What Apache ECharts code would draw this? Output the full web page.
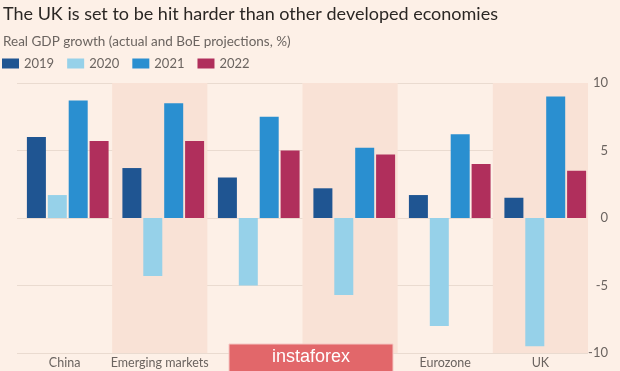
<!DOCTYPE html>
<html>
<head>
<meta charset="utf-8">
<script src="https://cdn.jsdelivr.net/npm/echarts@6/dist/echarts.min.js"></script>
<style>
html,body{margin:0;padding:0;background:#fdf0e7;}
#c{width:620px;height:371px;}
</style>
</head>
<body>
<div id="c"></div>
<script>
const categories = ['China', 'Emerging markets', 'World', 'US', 'Eurozone', 'UK'];
const years = ['2019', '2020', '2021', '2022'];
const v2019 = [6.0, 3.7, 3.0, 2.2, 1.7, 1.5];
const v2020 = [1.7, -4.3, -5.0, -5.7, -8.0, -9.5];
const v2021 = [8.7, 8.5, 7.5, 5.2, 6.2, 9.0];
const v2022 = [5.7, 5.7, 5.0, 4.7, 4.0, 3.5];
const bands = [null, 1, null, 1, null, 1];

const colors = ['#1f5592', '#96d1e9', '#2a8fd0', '#b02f5c'];
const seriesValues = [v2019, v2020, v2021, v2022];

const chart = echarts.init(document.getElementById('c'));
const font = 'Lato, "Noto Sans", sans-serif';

const barSeries = years.map((y, i) => ({
  name: y,
  type: 'bar',
  xAxisIndex: 1,
  yAxisIndex: 2,
  data: seriesValues[i],
  barWidth: 19,
  barGap: '10%',
  itemStyle: {color: colors[i]},
  z: 5
}));

chart.setOption({
  backgroundColor: '#fdf0e7',
  animation: false,
  title: [{
    text: 'The UK is set to be hit harder than other developed economies',
    left: 3, top: 5, padding: 0,
    textStyle: {fontFamily: font, fontSize: 18, fontWeight: 'normal', color: '#2b2724'}
  }, {
    text: 'Real GDP growth (actual and BoE projections, %)',
    left: 3, top: 35, padding: 0,
    textStyle: {fontFamily: font, fontSize: 13.5, fontWeight: 'normal', color: '#6b6460'}
  }],
  legend: {
    data: years,
    left: 2, top: 57, padding: 0,
    itemWidth: 17, itemHeight: 10,
    itemGap: 13,
    icon: 'rect',
    textStyle: {fontFamily: font, fontSize: 13, color: '#6b6460', padding: [0, 0, 0, 0]}
  },
  grid: [
    {left: 17, width: 571, top: 83, height: 270},
    {left: 20, width: 573, top: 83, height: 270}
  ],
  xAxis: [{
    type: 'category', gridIndex: 0, data: categories,
    axisLine: {show: false}, axisTick: {show: false},
    axisLabel: {fontFamily: font, fontSize: 12.5, color: '#6b6460', margin: 3, interval: 0}
  }, {
    type: 'category', gridIndex: 1, data: categories, show: false
  }],
  yAxis: [{
    type: 'value', gridIndex: 0, min: -10, max: 10, interval: 5,
    position: 'right',
    axisLine: {show: false}, axisTick: {show: false},
    axisLabel: {fontFamily: font, fontSize: 13, color: '#6b6460', align: 'right', margin: 20},
    splitLine: {lineStyle: {color: '#eadbd0', width: 1}}
  }, {
    type: 'value', gridIndex: 0, min: 0, max: 1, show: false
  }, {
    type: 'value', gridIndex: 1, min: -10, max: 10, show: false
  }],
  series: [{
    type: 'bar', xAxisIndex: 0, yAxisIndex: 1, data: bands,
    barWidth: '100%', silent: true,
    itemStyle: {color: '#f9e2d6'}, z: 0
  }].concat(barSeries),
  graphic: [{
    type: 'rect',
    shape: {x: 229, y: 344, width: 164, height: 32},
    style: {fill: '#e2676a', stroke: '#f5c9c4', lineWidth: 1},
    z: 100
  }, {
    type: 'text',
    x: 311, y: 357,
    style: {text: 'instaforex', fill: '#ffffff', font: '18px "Liberation Sans", sans-serif', align: 'center', verticalAlign: 'middle'},
    z: 101
  }]
});
</script>
</body>
</html>
